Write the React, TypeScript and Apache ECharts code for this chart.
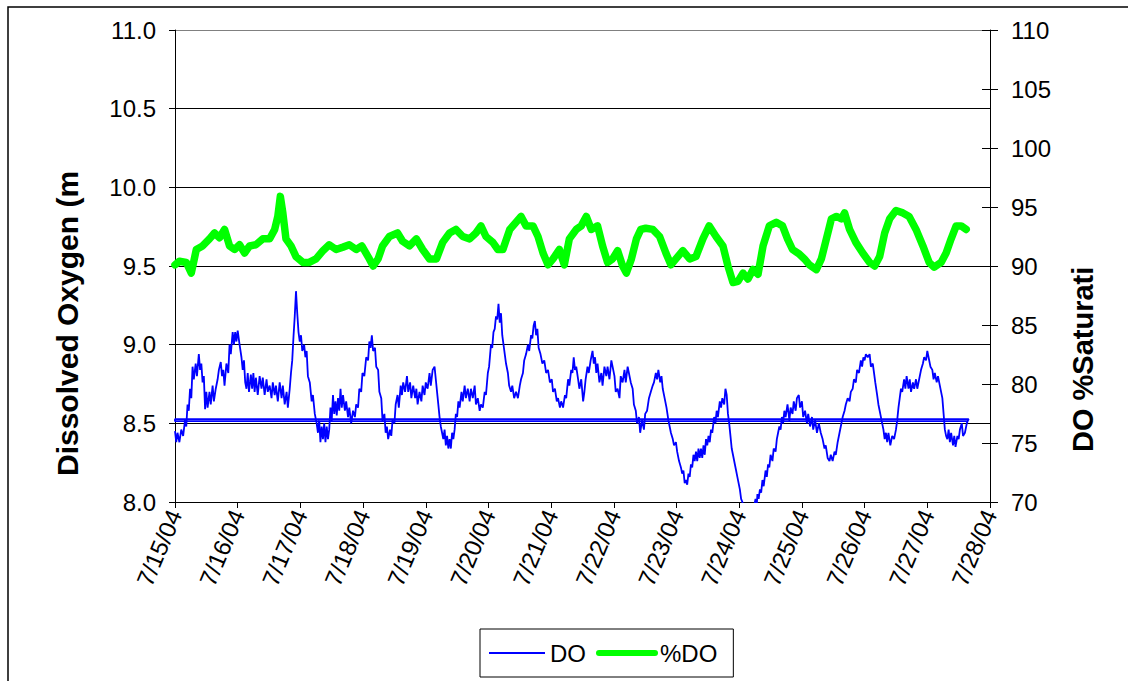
import React, { useEffect, useRef } from "react";
import * as echarts from "echarts";

// x values are days since 7/15/04 00:00
const xTickLabels = ["7/15/04", "7/16/04", "7/17/04", "7/18/04", "7/19/04", "7/20/04", "7/21/04", "7/22/04", "7/23/04", "7/24/04", "7/25/04", "7/26/04", "7/27/04", "7/28/04"];

// DO (mg/L) read as [day, value] pairs
const doReadings: number[][] = [
  [0.00, 8.45], [0.02, 8.38], [0.04, 8.44], [0.07, 8.38], [0.10, 8.46], [0.13, 8.42], [0.16, 8.52], [0.18, 8.48],
  [0.20, 8.62], [0.22, 8.58], [0.24, 8.72], [0.26, 8.66], [0.28, 8.86], [0.30, 8.78], [0.33, 8.88], [0.35, 8.80],
  [0.38, 8.94], [0.40, 8.84], [0.42, 8.88], [0.44, 8.76], [0.46, 8.80], [0.48, 8.59], [0.50, 8.70], [0.52, 8.60],
  [0.55, 8.70], [0.57, 8.62], [0.60, 8.74], [0.62, 8.64], [0.65, 8.72], [0.68, 8.78], [0.70, 8.84], [0.73, 8.89],
  [0.75, 8.80], [0.77, 8.84], [0.79, 8.74], [0.82, 8.88], [0.85, 8.82], [0.87, 9.00], [0.89, 8.94], [0.92, 9.08],
  [0.94, 9.00], [0.96, 9.08], [0.98, 9.02], [1.00, 9.09], [1.03, 9.00], [1.06, 8.92], [1.08, 8.84], [1.10, 8.90],
  [1.12, 8.76], [1.14, 8.72], [1.16, 8.82], [1.18, 8.70], [1.21, 8.81], [1.23, 8.72], [1.25, 8.82], [1.27, 8.70],
  [1.29, 8.79], [1.32, 8.68], [1.35, 8.80], [1.38, 8.72], [1.40, 8.79], [1.43, 8.68], [1.46, 8.78], [1.48, 8.70],
  [1.51, 8.74], [1.54, 8.66], [1.56, 8.76], [1.59, 8.68], [1.61, 8.74], [1.64, 8.64], [1.67, 8.76], [1.70, 8.66],
  [1.72, 8.74], [1.75, 8.62], [1.78, 8.70], [1.80, 8.60], [1.83, 8.72], [1.85, 8.82], [1.87, 8.90], [1.89, 9.05],
  [1.91, 9.18], [1.93, 9.34], [1.95, 9.20], [1.97, 9.08], [1.99, 9.02], [2.01, 9.06], [2.03, 8.96], [2.06, 9.00],
  [2.08, 8.92], [2.10, 8.96], [2.12, 8.80], [2.15, 8.76], [2.18, 8.64], [2.20, 8.68], [2.23, 8.56], [2.26, 8.50],
  [2.28, 8.44], [2.30, 8.52], [2.32, 8.38], [2.34, 8.48], [2.36, 8.40], [2.38, 8.50], [2.40, 8.38], [2.42, 8.48],
  [2.44, 8.40], [2.46, 8.46], [2.48, 8.60], [2.50, 8.52], [2.52, 8.68], [2.54, 8.56], [2.56, 8.64], [2.58, 8.55],
  [2.60, 8.66], [2.62, 8.58], [2.64, 8.72], [2.66, 8.60], [2.68, 8.68], [2.71, 8.58], [2.73, 8.64], [2.76, 8.54],
  [2.78, 8.60], [2.81, 8.50], [2.84, 8.58], [2.87, 8.54], [2.89, 8.62], [2.92, 8.60], [2.94, 8.72], [2.97, 8.70],
  [2.99, 8.82], [3.02, 8.80], [3.05, 8.92], [3.08, 8.90], [3.10, 9.02], [3.12, 8.98], [3.14, 9.06], [3.16, 8.96],
  [3.19, 8.98], [3.21, 8.86], [3.24, 8.84], [3.26, 8.70], [3.29, 8.66], [3.31, 8.52], [3.34, 8.56], [3.36, 8.44],
  [3.38, 8.48], [3.40, 8.40], [3.43, 8.46], [3.45, 8.42], [3.47, 8.52], [3.50, 8.50], [3.52, 8.62], [3.55, 8.68],
  [3.57, 8.60], [3.60, 8.74], [3.62, 8.68], [3.64, 8.76], [3.67, 8.70], [3.70, 8.80], [3.72, 8.70], [3.75, 8.76],
  [3.77, 8.66], [3.80, 8.74], [3.83, 8.66], [3.85, 8.72], [3.87, 8.62], [3.90, 8.70], [3.93, 8.64], [3.95, 8.74],
  [3.98, 8.68], [4.00, 8.76], [4.03, 8.72], [4.06, 8.82], [4.08, 8.74], [4.11, 8.84], [4.14, 8.86], [4.16, 8.78],
  [4.18, 8.70], [4.20, 8.62], [4.22, 8.54], [4.24, 8.48], [4.26, 8.44], [4.28, 8.40], [4.30, 8.46], [4.32, 8.36],
  [4.34, 8.42], [4.36, 8.34], [4.38, 8.40], [4.40, 8.34], [4.42, 8.44], [4.44, 8.40], [4.46, 8.46], [4.48, 8.56],
  [4.50, 8.54], [4.52, 8.64], [4.54, 8.60], [4.57, 8.70], [4.59, 8.64], [4.62, 8.74], [4.64, 8.66], [4.67, 8.72],
  [4.70, 8.64], [4.72, 8.72], [4.75, 8.66], [4.78, 8.74], [4.80, 8.62], [4.83, 8.66], [4.86, 8.58], [4.88, 8.62],
  [4.91, 8.60], [4.94, 8.70], [4.96, 8.68], [4.99, 8.82], [5.01, 8.86], [5.04, 9.00], [5.06, 8.98], [5.08, 9.08],
  [5.10, 9.10], [5.12, 9.18], [5.14, 9.16], [5.16, 9.26], [5.18, 9.14], [5.20, 9.20], [5.22, 9.06], [5.24, 9.00],
  [5.26, 8.94], [5.28, 8.88], [5.31, 8.82], [5.33, 8.74], [5.36, 8.70], [5.38, 8.74], [5.41, 8.66], [5.44, 8.70],
  [5.47, 8.66], [5.50, 8.74], [5.52, 8.78], [5.55, 8.82], [5.57, 8.90], [5.60, 8.94], [5.63, 9.00], [5.65, 8.96],
  [5.68, 9.06], [5.70, 9.04], [5.72, 9.12], [5.74, 9.15], [5.76, 9.06], [5.78, 9.10], [5.80, 8.98], [5.83, 8.94],
  [5.86, 8.88], [5.89, 8.90], [5.92, 8.82], [5.95, 8.84], [5.98, 8.76], [6.01, 8.78], [6.03, 8.70], [6.06, 8.72],
  [6.09, 8.64], [6.11, 8.66], [6.14, 8.60], [6.16, 8.64], [6.19, 8.60], [6.22, 8.68], [6.24, 8.66], [6.27, 8.78],
  [6.29, 8.74], [6.32, 8.84], [6.34, 8.82], [6.36, 8.92], [6.38, 8.84], [6.40, 8.86], [6.43, 8.78], [6.45, 8.72],
  [6.48, 8.78], [6.51, 8.64], [6.53, 8.70], [6.55, 8.78], [6.58, 8.86], [6.60, 8.82], [6.63, 8.90], [6.66, 8.96],
  [6.68, 8.88], [6.70, 8.92], [6.72, 8.82], [6.74, 8.88], [6.77, 8.76], [6.80, 8.82], [6.82, 8.74], [6.85, 8.86],
  [6.88, 8.80], [6.90, 8.86], [6.93, 8.78], [6.96, 8.90], [6.98, 8.86], [7.01, 8.80], [7.03, 8.70], [7.06, 8.72],
  [7.09, 8.66], [7.11, 8.80], [7.14, 8.76], [7.17, 8.84], [7.19, 8.76], [7.22, 8.86], [7.24, 8.82], [7.27, 8.76],
  [7.30, 8.72], [7.32, 8.62], [7.35, 8.58], [7.37, 8.50], [7.40, 8.54], [7.42, 8.44], [7.45, 8.52], [7.48, 8.46],
  [7.50, 8.56], [7.53, 8.58], [7.56, 8.66], [7.59, 8.70], [7.62, 8.74], [7.64, 8.76], [7.67, 8.82], [7.69, 8.78],
  [7.71, 8.84], [7.74, 8.76], [7.76, 8.80], [7.78, 8.72], [7.81, 8.66], [7.84, 8.60], [7.87, 8.52], [7.89, 8.48],
  [7.91, 8.44], [7.94, 8.40], [7.96, 8.36], [7.99, 8.38], [8.01, 8.32], [8.04, 8.26], [8.07, 8.22], [8.09, 8.18],
  [8.11, 8.20], [8.13, 8.12], [8.15, 8.14], [8.17, 8.11], [8.19, 8.18], [8.21, 8.16], [8.23, 8.24], [8.25, 8.22],
  [8.27, 8.30], [8.29, 8.26], [8.31, 8.32], [8.33, 8.26], [8.35, 8.34], [8.37, 8.28], [8.39, 8.34], [8.41, 8.28],
  [8.43, 8.36], [8.45, 8.30], [8.47, 8.40], [8.49, 8.36], [8.51, 8.42], [8.53, 8.38], [8.55, 8.46], [8.57, 8.44],
  [8.60, 8.54], [8.62, 8.50], [8.64, 8.58], [8.66, 8.54], [8.69, 8.64], [8.71, 8.60], [8.73, 8.66], [8.76, 8.62],
  [8.78, 8.72], [8.80, 8.68], [8.82, 8.56], [8.84, 8.50], [8.86, 8.42], [8.88, 8.34], [8.90, 8.30], [8.93, 8.24],
  [8.95, 8.20], [8.97, 8.16], [8.99, 8.12], [9.01, 8.08], [9.03, 8.02], [9.05, 8.00], [9.08, 7.94], [9.11, 7.90],
  [9.14, 7.88], [9.17, 7.90], [9.20, 7.94], [9.23, 7.96], [9.26, 8.02], [9.28, 7.98], [9.29, 8.05], [9.31, 8.02],
  [9.33, 8.08], [9.35, 8.06], [9.37, 8.14], [9.39, 8.10], [9.42, 8.20], [9.44, 8.16], [9.46, 8.24], [9.48, 8.22],
  [9.50, 8.30], [9.53, 8.26], [9.55, 8.34], [9.58, 8.32], [9.60, 8.40], [9.62, 8.44], [9.64, 8.48], [9.66, 8.46],
  [9.68, 8.54], [9.70, 8.50], [9.72, 8.58], [9.74, 8.54], [9.77, 8.62], [9.80, 8.52], [9.82, 8.60], [9.85, 8.56],
  [9.87, 8.64], [9.90, 8.58], [9.92, 8.66], [9.95, 8.68], [9.97, 8.60], [10.00, 8.64], [10.02, 8.54], [10.05, 8.58],
  [10.08, 8.50], [10.10, 8.56], [10.13, 8.48], [10.16, 8.54], [10.18, 8.46], [10.21, 8.52], [10.24, 8.44], [10.27, 8.50],
  [10.30, 8.44], [10.33, 8.40], [10.36, 8.34], [10.38, 8.36], [10.41, 8.28], [10.44, 8.26], [10.46, 8.30], [10.49, 8.26],
  [10.52, 8.32], [10.54, 8.30], [10.57, 8.38], [10.60, 8.44], [10.62, 8.48], [10.65, 8.54], [10.68, 8.58], [10.70, 8.62],
  [10.73, 8.66], [10.76, 8.64], [10.78, 8.70], [10.81, 8.72], [10.83, 8.78], [10.86, 8.76], [10.88, 8.84], [10.91, 8.82],
  [10.94, 8.90], [10.96, 8.86], [10.98, 8.92], [11.00, 8.90], [11.02, 8.94], [11.05, 8.92], [11.08, 8.94], [11.10, 8.86],
  [11.13, 8.88], [11.15, 8.82], [11.17, 8.76], [11.20, 8.68], [11.22, 8.62], [11.25, 8.56], [11.28, 8.50], [11.30, 8.46],
  [11.32, 8.40], [11.34, 8.44], [11.36, 8.38], [11.38, 8.44], [11.41, 8.36], [11.44, 8.42], [11.47, 8.40], [11.50, 8.46],
  [11.52, 8.52], [11.54, 8.60], [11.56, 8.66], [11.58, 8.72], [11.60, 8.70], [11.63, 8.78], [11.65, 8.72], [11.67, 8.80],
  [11.70, 8.72], [11.72, 8.78], [11.74, 8.70], [11.77, 8.76], [11.79, 8.72], [11.82, 8.78], [11.84, 8.72], [11.87, 8.78],
  [11.90, 8.84], [11.93, 8.88], [11.95, 8.92], [11.98, 8.90], [12.00, 8.96], [12.02, 8.92], [12.05, 8.86], [12.08, 8.84],
  [12.10, 8.78], [12.12, 8.82], [12.15, 8.76], [12.17, 8.80], [12.20, 8.74], [12.22, 8.70], [12.24, 8.66], [12.26, 8.56],
  [12.28, 8.46], [12.30, 8.42], [12.32, 8.40], [12.34, 8.46], [12.36, 8.38], [12.38, 8.44], [12.41, 8.36], [12.43, 8.42],
  [12.45, 8.35], [12.48, 8.42], [12.50, 8.40], [12.52, 8.46], [12.55, 8.50], [12.57, 8.42], [12.60, 8.44], [12.63, 8.50],
  [12.65, 8.52],
];
// the logger trace wraps back to the start of the record
const doWrap: number[][] = [[12.66, 8.527], [0.0, 8.527], [0.0, 8.514], [12.65, 8.514]];

// %DO saturation read as days / values
const pdoDays = [
  0.00, 0.07, 0.18, 0.26, 0.34, 0.44, 0.55, 0.63, 0.71, 0.79, 0.87, 0.95,
  1.03, 1.11, 1.19, 1.29, 1.40, 1.51, 1.59, 1.64, 1.68, 1.72, 1.77, 1.85, 1.93,
  2.04, 2.14, 2.25, 2.36, 2.46, 2.57, 2.68, 2.78, 2.89, 2.98,
  3.10, 3.16, 3.24, 3.31, 3.42, 3.55, 3.63, 3.74, 3.85, 3.95,
  4.06, 4.17, 4.27, 4.38, 4.48, 4.59, 4.70, 4.80, 4.88, 4.96,
  5.07, 5.15, 5.23, 5.34, 5.44, 5.52, 5.60, 5.71, 5.79, 5.87, 5.95,
  6.03, 6.13, 6.21, 6.29, 6.40, 6.48, 6.56, 6.64, 6.74, 6.82, 6.90, 6.98,
  7.06, 7.14, 7.20, 7.28, 7.36, 7.43, 7.51, 7.62, 7.73, 7.83, 7.91, 7.99,
  8.10, 8.21, 8.31, 8.42, 8.52, 8.63, 8.74, 8.82, 8.90, 8.98,
  9.06, 9.14, 9.22, 9.30, 9.38, 9.48, 9.59, 9.69, 9.77, 9.85, 9.96,
  10.04, 10.12, 10.23, 10.31, 10.39, 10.47, 10.55, 10.63, 10.68, 10.76, 10.86, 10.97,
  11.08, 11.16, 11.24, 11.32, 11.40, 11.50, 11.61, 11.71, 11.82, 11.93,
  12.03, 12.11, 12.22, 12.30, 12.38, 12.46, 12.54, 12.62,
];
const pdoValues = [
  90.1, 90.4, 90.3, 89.4, 91.4, 91.7, 92.3, 92.8, 92.4, 93.1, 91.7, 91.4,
  91.8, 91.1, 91.7, 91.8, 92.3, 92.3, 93.1, 94.2, 95.9, 94.5, 92.3, 91.7, 90.8,
  90.3, 90.3, 90.6, 91.3, 91.8, 91.4, 91.6, 91.8, 91.4, 91.7,
  90.6, 90.0, 90.6, 91.7, 92.5, 92.8, 92.1, 91.7, 92.3, 91.4,
  90.6, 90.6, 92.0, 92.8, 93.1, 92.5, 92.3, 92.8, 93.4, 92.5,
  92.0, 91.4, 91.4, 93.1, 93.7, 94.2, 93.4, 93.4, 92.5, 91.1, 90.1,
  90.6, 91.4, 90.1, 92.3, 93.1, 93.4, 94.2, 93.1, 93.4, 91.7, 90.3, 90.6,
  91.3, 90.0, 89.4, 90.6, 92.3, 93.1, 93.2, 93.1, 92.5, 91.1, 90.1, 90.6,
  91.3, 90.6, 90.8, 92.3, 93.4, 92.5, 91.7, 90.0, 88.6, 88.7,
  89.4, 88.9, 89.7, 89.3, 91.7, 93.4, 93.7, 93.4, 92.3, 91.4, 91.0,
  90.6, 90.1, 89.7, 90.6, 92.3, 94.0, 94.2, 94.0, 94.5, 93.1, 92.0, 91.1,
  90.3, 90.0, 90.8, 92.8, 94.0, 94.7, 94.5, 94.2, 93.1, 91.7,
  90.3, 89.9, 90.3, 91.1, 92.3, 93.4, 93.4, 93.1,
];

const FONT = "'Liberation Sans', Arial, sans-serif";

export default function App() {
  const ref = useRef<HTMLDivElement>(null);
  useEffect(() => {
    if (!ref.current) return;
    const chart = echarts.init(ref.current, null, { renderer: "svg" });
    const doData = doReadings.concat(doWrap);
    const pdoData = pdoDays.map((d, i) => [d, pdoValues[i]]);
    chart.setOption({
      animation: false,
      backgroundColor: "#ffffff",
      textStyle: { fontFamily: FONT, color: "#000" },
      grid: { left: 175, top: 30, width: 815, height: 472, containLabel: false },
      legend: {
        left: 480,
        top: 629,
        orient: "horizontal",
        itemWidth: 56,
        itemHeight: 14,
        itemGap: 10,
        padding: [12, 16, 12, 8],
        borderColor: "#000",
        borderWidth: 1,
        backgroundColor: "#fff",
        itemStyle: { opacity: 0 },
        textStyle: { fontSize: 24, color: "#000", fontFamily: FONT },
        data: [
          { name: "DO", lineStyle: { width: 2 } },
          { name: "%DO", lineStyle: { width: 6, cap: "round" } },
        ],
      },
      xAxis: {
        type: "value",
        min: 0,
        max: 13,
        interval: 1,
        axisLine: { show: true, lineStyle: { color: "#000", width: 1 } },
        axisTick: { show: true, inside: false, length: 6, lineStyle: { color: "#000" } },
        splitLine: { show: false },
        axisLabel: {
          rotate: 67,
          fontSize: 24,
          color: "#000",
          fontFamily: FONT,
          margin: 9,
          formatter: (v: number) => xTickLabels[Math.round(v)] ?? "",
        },
      },
      yAxis: [
        {
          type: "value",
          position: "left",
          min: 8,
          max: 11,
          interval: 0.5,
          axisLine: { show: true, lineStyle: { color: "#000", width: 1 } },
          axisTick: { show: true, inside: false, length: 6, lineStyle: { color: "#000" } },
          splitLine: {
            show: true,
            lineStyle: { color: ["#000", "#000", "#000", "#000", "#000", "#000", "#808080"], width: 1 },
          },
          axisLabel: { fontSize: 24, color: "#000", fontFamily: FONT, margin: 19, formatter: (v: number) => v.toFixed(1) },
        },
        {
          type: "value",
          position: "right",
          min: 70,
          max: 110,
          interval: 5,
          axisLine: { show: true, lineStyle: { color: "#000", width: 1 } },
          axisTick: { show: true, inside: false, length: 8, lineStyle: { color: "#000" } },
          splitLine: { show: false },
          axisLabel: { fontSize: 24, color: "#000", fontFamily: FONT, margin: 21 },
        },
        {
          type: "value",
          position: "right",
          min: 70,
          max: 110,
          interval: 5,
          axisLine: { show: false },
          axisTick: { show: true, inside: true, length: 8, lineStyle: { color: "#000" } },
          splitLine: { show: false },
          axisLabel: { show: false },
        },
      ],
      graphic: [
        {
          type: "rect",
          silent: true,
          shape: { x: 8, y: 7, width: 1130, height: 700 },
          style: { fill: "none", stroke: "#000", lineWidth: 1.5 },
          z: -10,
        },
        {
          type: "text",
          x: 67,
          y: 476,
          rotation: Math.PI / 2,
          style: {
            text: "Dissolved Oxygen (m",
            font: `bold 30px ${FONT}`,
            fill: "#000",
            textAlign: "left",
            textVerticalAlign: "middle",
          },
        },
        {
          type: "text",
          x: 1083,
          y: 452,
          rotation: Math.PI / 2,
          style: {
            text: "DO %Saturati",
            font: `bold 29px ${FONT}`,
            fill: "#000",
            textAlign: "left",
            textVerticalAlign: "middle",
          },
        },
      ],
      series: [
        {
          name: "DO",
          type: "line",
          yAxisIndex: 0,
          data: doData,
          symbol: "none",
          showSymbol: false,
          color: "#0000ff",
          lineStyle: { color: "#0000ff", width: 1.8 },
          clip: true,
          z: 3,
        },
        {
          name: "%DO",
          type: "line",
          yAxisIndex: 1,
          data: pdoData,
          symbol: "none",
          showSymbol: false,
          color: "#00ff00",
          lineStyle: { color: "#00ff00", width: 7.5, cap: "round", join: "round" },
          clip: true,
          z: 2,
        },
      ],
    });
    return () => chart.dispose();
  }, []);
  return (
    <div
      ref={ref}
      style={{ position: "fixed", left: 0, top: 0, width: 1128, height: 681, background: "#fff" }}
    />
  );
}
